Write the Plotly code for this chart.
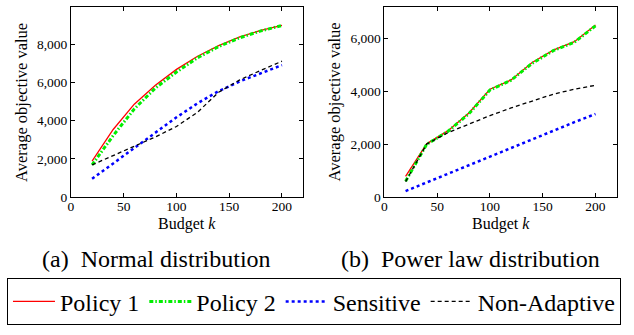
import plotly.graph_objects as go

budget = [20, 40, 60, 80, 100, 120, 140, 160, 180, 200]

normal_policy1 = [1880, 3540, 4870, 5870, 6700, 7390, 7950, 8410, 8750, 9010]
normal_policy2 = [1680, 3220, 4620, 5720, 6560, 7310, 7900, 8360, 8720, 9000]
normal_sensitive = [950, 1760, 2560, 3360, 4180, 4920, 5560, 6070, 6500, 6920]
normal_nonadaptive = [1680, 2160, 2640, 3150, 3700, 4450, 5500, 6150, 6650, 7130]

power_policy1 = [776, 2010, 2500, 3180, 4080, 4430, 5090, 5560, 5880, 6510]
power_policy2 = [590, 1990, 2480, 3150, 4050, 4420, 5060, 5540, 5860, 6480]
power_sensitive = [220, 550, 880, 1210, 1540, 1860, 2190, 2510, 2830, 3140]
power_nonadaptive = [580, 2000, 2430, 2770, 3080, 3370, 3640, 3890, 4080, 4230]

series_names = ["Policy 1", "Policy 2", "Sensitive", "Non-Adaptive"]
x_ticks = [0, 50, 100, 150, 200]
y_ticks_normal = [0, 2000, 4000, 6000, 8000]
y_ticks_power = [0, 2000, 4000, 6000]
captions = ["(a)&nbsp;&nbsp;Normal distribution", "(b)&nbsp;&nbsp;Power law distribution"]

styles = [
    dict(color="red", width=1.3, dash="solid"),
    dict(color="#00ee00", width=3, dash="4px,2px,1.5px,2px"),
    dict(color="blue", width=2.5, dash="dot"),
    dict(color="black", width=1.3, dash="4px,3px"),
]

fig = go.Figure()
normal = [normal_policy1, normal_policy2, normal_sensitive, normal_nonadaptive]
power = [power_policy1, power_policy2, power_sensitive, power_nonadaptive]
for i, (name, ys) in enumerate(zip(series_names, normal)):
    fig.add_trace(go.Scatter(x=budget, y=ys, mode="lines", name=name, line=styles[i],
                             xaxis="x", yaxis="y", showlegend=True))
for i, (name, ys) in enumerate(zip(series_names, power)):
    fig.add_trace(go.Scatter(x=budget, y=ys, mode="lines", name=name, line=styles[i],
                             xaxis="x2", yaxis="y2", showlegend=False))

W, H = 634, 335
serif = "'Liberation Serif', 'Times New Roman', Times, serif"
axis_common = dict(showgrid=False, zeroline=False, showline=True, linecolor="black", linewidth=1,
                   mirror="allticks", ticks="inside", ticklen=4, tickcolor="black",
                   tickfont=dict(family=serif, size=13.5, color="black"))

ydom = [1 - 201.7 / H, 1 - 7.3 / H]
fig.update_layout(
    width=W, height=H, margin=dict(l=0, r=0, t=0, b=0),
    plot_bgcolor="white", paper_bgcolor="white",
    font=dict(family=serif, color="black"),
    xaxis=dict(domain=[68.3 / W, 301.5 / W], range=[0, 220], tickvals=x_ticks, anchor="y",
               ticklabelstandoff=-3, **axis_common),
    yaxis=dict(domain=ydom, range=[0, 9970], tickvals=y_ticks_normal, tickformat=",", anchor="x", **axis_common),
    xaxis2=dict(domain=[383.3 / W, 616.5 / W], range=[0, 220], tickvals=x_ticks, anchor="y2",
                ticklabelstandoff=-3, **axis_common),
    yaxis2=dict(domain=ydom, range=[0, 7190], tickvals=y_ticks_power, tickformat=",", anchor="x2", **axis_common),
    legend=dict(orientation="h", x=4 / W, xanchor="left", y=0.005, yanchor="bottom",
                bordercolor="black", borderwidth=1, font=dict(family=serif, size=24, color="black"),
                itemwidth=42, tracegroupgap=0),
    showlegend=True,
)

ann = []
for xc in [(68.3 + 301.5) / 2, (383.3 + 616.5) / 2]:
    ann.append(dict(text="Budget <i>k</i>", x=xc / W, y=1 - 229 / H, xref="paper", yref="paper",
                    showarrow=False, font=dict(size=16, family=serif), xanchor="center", yanchor="middle"))
for xc in [18, 333]:
    ann.append(dict(text="Average objective value", x=xc / W, y=(ydom[0] + ydom[1]) / 2, xref="paper", yref="paper",
                    showarrow=False, textangle=-90, font=dict(size=16.5, family=serif), xanchor="center", yanchor="middle"))
for xc, cap in zip([154, 470], captions):
    ann.append(dict(text=cap, x=xc / W, y=1 - 265 / H, xref="paper", yref="paper",
                    showarrow=False, font=dict(size=24, family=serif), xanchor="center", yanchor="middle"))
fig.update_layout(annotations=ann)

fig.write_html("out.html", config={"displayModeBar": False},
               post_script="document.body.style.margin='0';document.body.style.overflow='hidden';")
